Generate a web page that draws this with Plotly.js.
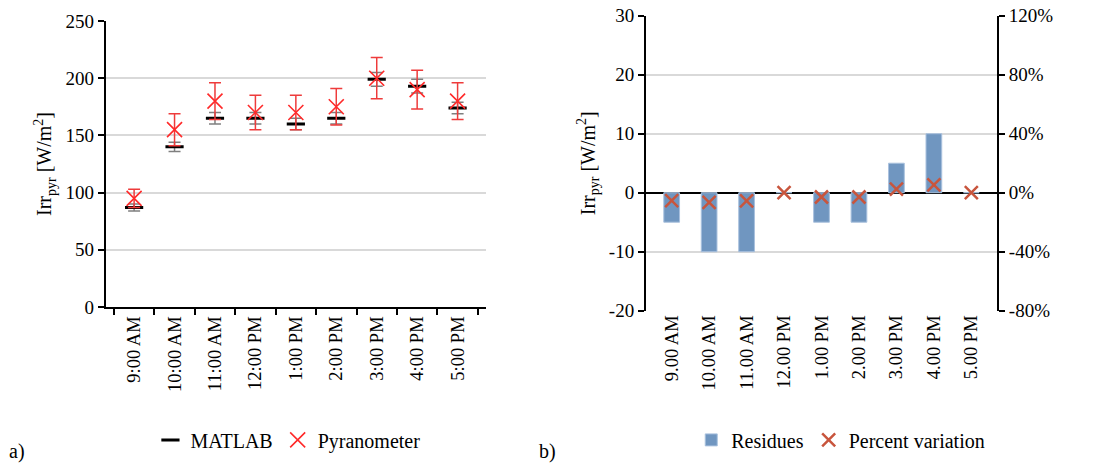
<!DOCTYPE html>
<html>
<head>
<meta charset="utf-8">
<script src="https://cdn.plot.ly/plotly-3.0.1.min.js"></script>
<style>html,body{margin:0;padding:0;background:#fff;}#chart{width:1099px;height:465px;}</style>
</head>
<body>
<div id="chart"></div>
<script>
// ---- data ----
var hoursA = ["9:00 AM","10:00 AM","11:00 AM","12:00 PM","1:00 PM","2:00 PM","3:00 PM","4:00 PM","5:00 PM"];
var hoursB = ["9.00 AM","10.00 AM","11.00 AM","12.00 PM","1.00 PM","2.00 PM","3.00 PM","4.00 PM","5.00 PM"];
var matlab = [87, 140, 165, 165, 160, 165, 199, 193, 174];
var matlabErr = [3, 4, 5, 5, 5, 5, 6, 6, 5];
var pyranometer = [95, 155, 180, 170, 170, 175, 200, 190, 180];
var pyranometerErr = [8, 14, 16, 15, 15, 16, 18, 17, 16];
var residues = [-5, -10, -10, 0, -5, -5, 5, 10, 0];
var percentVar = [-5.3, -6.5, -5.6, 0, -2.9, -2.9, 2.5, 5.3, 0];
var leftTicks = [0, 50, 100, 150, 200, 250];
var resTicks = [-20, -10, 0, 10, 20, 30];
var resTickText = ["-20", "-10", "0", "10", "20", "30"];
var pctTicks = [-80, -40, 0, 40, 80, 120];
var pctTickText = ["-80%", "-40%", "0%", "40%", "80%", "120%"];

var FONT = "Liberation Serif, Times New Roman, serif";

var traces = [
  {
    type: "scatter", mode: "markers", name: "MATLAB",
    x: hoursA, y: matlab, xaxis: "x", yaxis: "y",
    marker: {symbol: "line-ew", size: 13, line: {color: "#000000", width: 3}},
    error_y: {type: "data", array: matlabErr, visible: true, color: "#7f7f7f", thickness: 1.5, width: 6},
    legend: "legend"
  },
  {
    type: "scatter", mode: "markers", name: "Pyranometer",
    x: hoursA, y: pyranometer, xaxis: "x", yaxis: "y",
    marker: {symbol: "x-thin", size: 15, line: {color: "#ff2a2a", width: 1.6}, color: "#ff2a2a"},
    error_y: {type: "data", array: pyranometerErr, visible: true, color: "#ee3b3b", thickness: 1.5, width: 6},
    legend: "legend"
  },
  {
    type: "bar", name: "Residues",
    x: hoursB, y: residues, xaxis: "x2", yaxis: "y2",
    marker: {color: "#7096c0", line: {color: "#a9c1de", width: 1}},
    legend: "legend2"
  },
  {
    type: "scatter", mode: "markers", name: "Percent variation",
    x: hoursB, y: percentVar, xaxis: "x2", yaxis: "y3",
    marker: {symbol: "x-thin", size: 13, line: {color: "#c8553d", width: 2.5}, color: "#c8553d"},
    legend: "legend2"
  }
];

var axisCommon = {
  linecolor: "#000", linewidth: 2, ticks: "outside", tickcolor: "#000", tickwidth: 2, ticklen: 6,
  tickfont: {family: FONT, size: 19, color: "#000"}
};

var layout = {
  width: 1099, height: 465,
  margin: {l: 0, r: 0, t: 0, b: 0},
  paper_bgcolor: "#fff", plot_bgcolor: "#fff",
  font: {family: FONT, color: "#000"},
  bargap: 0.58,
  xaxis: Object.assign({}, axisCommon, {
    domain: [0.0962, 0.4422], anchor: "y", type: "category",
    tickson: "boundaries", tickangle: -90, showgrid: false, showline: true,
    tickfont: {family: FONT, size: 18.5, color: "#000"}
  }),
  yaxis: Object.assign({}, axisCommon, {
    domain: [0.3398, 0.9548], anchor: "x", range: [0, 250],
    tickvals: leftTicks, showgrid: true, gridcolor: "#d9d9d9", gridwidth: 2,
    zeroline: false, showline: true,
    title: {text: "Irr<sub>pyr</sub> [W/m<sup>2</sup>]", font: {family: FONT, size: 20, color: "#000"}, standoff: 8}
  }),
  xaxis2: Object.assign({}, axisCommon, {
    domain: [0.5878, 0.9072], anchor: "y2", type: "category",
    ticks: "", tickangle: -90, showgrid: false, showline: false,
    tickfont: {family: FONT, size: 18.5, color: "#000"}
  }),
  yaxis2: Object.assign({}, axisCommon, {
    domain: [0.3318, 0.9662], anchor: "x2", range: [-20, 30],
    tickvals: resTicks, ticktext: resTickText,
    showgrid: true, gridcolor: "#d9d9d9", gridwidth: 2,
    zeroline: true, zerolinecolor: "#000", zerolinewidth: 2, showline: true,
    title: {text: "Irr<sub>pyr</sub> [W/m<sup>2</sup>]", font: {family: FONT, size: 20, color: "#000"}, standoff: 8}
  }),
  yaxis3: Object.assign({}, axisCommon, {
    overlaying: "y2", anchor: "x2", side: "right", range: [-80, 120],
    tickvals: pctTicks, ticktext: pctTickText,
    showgrid: false, zeroline: false, showline: true
  }),
  legend: {
    orientation: "h", x: 0.262, xanchor: "center", y: 0.054, yanchor: "middle",
    font: {family: FONT, size: 20, color: "#000"}, itemwidth: 30, tracegroupgap: 0,
    bgcolor: "rgba(0,0,0,0)"
  },
  legend2: {
    orientation: "h", x: 0.765, xanchor: "center", y: 0.054, yanchor: "middle",
    font: {family: FONT, size: 20, color: "#000"}, itemwidth: 30,
    bgcolor: "rgba(0,0,0,0)"
  },
  annotations: [
    {text: "a)", xref: "paper", yref: "paper", x: 0.006, y: 0.03, xanchor: "left", yanchor: "middle",
     showarrow: false, font: {family: FONT, size: 20, color: "#000"}},
    {text: "b)", xref: "paper", yref: "paper", x: 0.489, y: 0.03, xanchor: "left", yanchor: "middle",
     showarrow: false, font: {family: FONT, size: 20, color: "#000"}}
  ],
  showlegend: true
};

Plotly.newPlot("chart", traces, layout, {displayModeBar: false, staticPlot: true});
</script>
</body>
</html>
